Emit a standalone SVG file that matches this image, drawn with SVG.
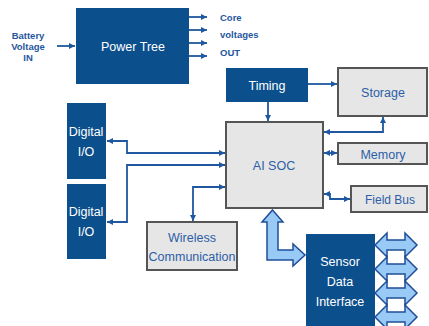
<svg xmlns="http://www.w3.org/2000/svg" width="429" height="326" viewBox="0 0 429 326">
<defs>
<marker id="ah" markerUnits="userSpaceOnUse" markerWidth="7" markerHeight="7" refX="6" refY="3.5" orient="auto-start-reverse"><path d="M0,0.5 L6,3.5 L0,6.5 z" fill="#1f57a0"/></marker>
<style>
.dark{fill:#0b4f8c}
.gray{fill:#e6e6e6;stroke:#555;stroke-width:2}
.wt{fill:#fff;font-family:"Liberation Sans",Arial,sans-serif;font-size:12.5px;text-anchor:middle}
.bt{fill:#2c5ea6;font-family:"Liberation Sans",Arial,sans-serif;font-size:12.5px;text-anchor:middle}
.lbl{fill:#1f57a0;font-family:"Liberation Sans",Arial,sans-serif;font-size:9.5px;font-weight:bold}
.c{fill:none;stroke:#1f57a0;stroke-width:1.8}
.h{fill:#99c9f5;stroke:#1f4f9a;stroke-width:1.5}
</style>
</defs>
<rect width="429" height="326" fill="#fff"/>
<g id="battery-label">
<text class="lbl" x="28" y="38.5" text-anchor="middle">Battery</text>
<text class="lbl" x="28" y="49.5" text-anchor="middle">Voltage</text>
<text class="lbl" x="28" y="60.5" text-anchor="middle">IN</text>
</g>
<g id="power-tree"><rect class="dark" x="76" y="8" width="113" height="76"/><text class="wt" x="133" y="50.5">Power Tree</text></g>
<g id="core-label">
<text class="lbl" x="220" y="20.5">Core</text>
<text class="lbl" x="220" y="38">voltages</text>
<text class="lbl" x="220" y="55.5">OUT</text>
</g>
<g id="timing"><rect class="dark" x="226" y="68" width="82" height="34"/><text class="wt" x="267" y="89.5">Timing</text></g>
<g id="storage"><rect class="gray" x="338" y="68" width="89" height="48"/><text class="bt" x="383" y="96.5">Storage</text></g>
<g id="ai-soc"><rect class="gray" x="226" y="122" width="97" height="86"/><text class="bt" x="274" y="170">AI SOC</text></g>
<g id="memory"><rect class="gray" x="338" y="143" width="89" height="21"/><text class="bt" x="383" y="158.5">Memory</text></g>
<g id="field-bus"><rect class="gray" x="351" y="186" width="76" height="26"/><text class="bt" x="390" y="203.5" style="font-size:12px">Field Bus</text></g>
<g id="digital-io-1"><rect class="dark" x="67" y="103" width="39" height="76"/><text class="wt" x="86" y="136">Digital</text><text class="wt" x="86" y="156">I/O</text></g>
<g id="digital-io-2"><rect class="dark" x="67" y="184" width="39" height="75"/><text class="wt" x="86" y="216">Digital</text><text class="wt" x="86" y="236">I/O</text></g>
<g id="wireless"><rect class="gray" x="147" y="222" width="90" height="48"/><text class="bt" x="192" y="241.5">Wireless</text><text class="bt" x="192" y="261">Communication</text></g>
<g id="sensor"><rect class="dark" x="306" y="234" width="69" height="92"/><text class="wt" x="340" y="265.5">Sensor</text><text class="wt" x="340" y="285.5">Data</text><text class="wt" x="340" y="305.5">Interface</text></g>
<g id="connectors">
<line class="c" x1="57" y1="46" x2="75" y2="46" marker-end="url(#ah)"/>
<line class="c" x1="189" y1="17" x2="207" y2="17" marker-end="url(#ah)"/>
<line class="c" x1="189" y1="30" x2="207" y2="30" marker-end="url(#ah)"/>
<line class="c" x1="189" y1="43" x2="207" y2="43" marker-end="url(#ah)"/>
<line class="c" x1="189" y1="56" x2="207" y2="56" marker-end="url(#ah)"/>
<line class="c" x1="308" y1="84" x2="337" y2="84" marker-end="url(#ah)"/>
<line class="c" x1="268" y1="102" x2="268" y2="121" marker-end="url(#ah)"/>
<polyline class="c" points="383,117 383,132 324,132" marker-start="url(#ah)" marker-end="url(#ah)"/>
<line class="c" x1="324" y1="153" x2="337" y2="153" marker-start="url(#ah)" marker-end="url(#ah)"/>
<polyline class="c" points="324,194 330,194 330,199 350,199" marker-start="url(#ah)" marker-end="url(#ah)"/>
<polyline class="c" points="107,141 127,141 127,153 225,153" marker-start="url(#ah)" marker-end="url(#ah)"/>
<polyline class="c" points="225,165 127,165 127,222 107,222" marker-start="url(#ah)" marker-end="url(#ah)"/>
<polyline class="c" points="225,187 193,187 193,221" marker-start="url(#ah)" marker-end="url(#ah)"/>
<polygon class="h" points="272.5,210 283,222 278,222 278,250 293,250 293,244 305,255 293,266 293,260 267,260 267,222 262,222"/>
<polygon class="h" points="375,245 387,233 387,240 405,240 405,233 417,245 405,257 405,250 387,250 387,257"/>
<polygon class="h" points="375,269 387,257 387,264 405,264 405,257 417,269 405,281 405,274 387,274 387,281"/>
<polygon class="h" points="375,293 387,281 387,288 405,288 405,281 417,293 405,305 405,298 387,298 387,305"/>
<polygon class="h" points="375,317 387,305 387,312 405,312 405,305 417,317 405,329 405,322 387,322 387,329"/>
</g>
</svg>
